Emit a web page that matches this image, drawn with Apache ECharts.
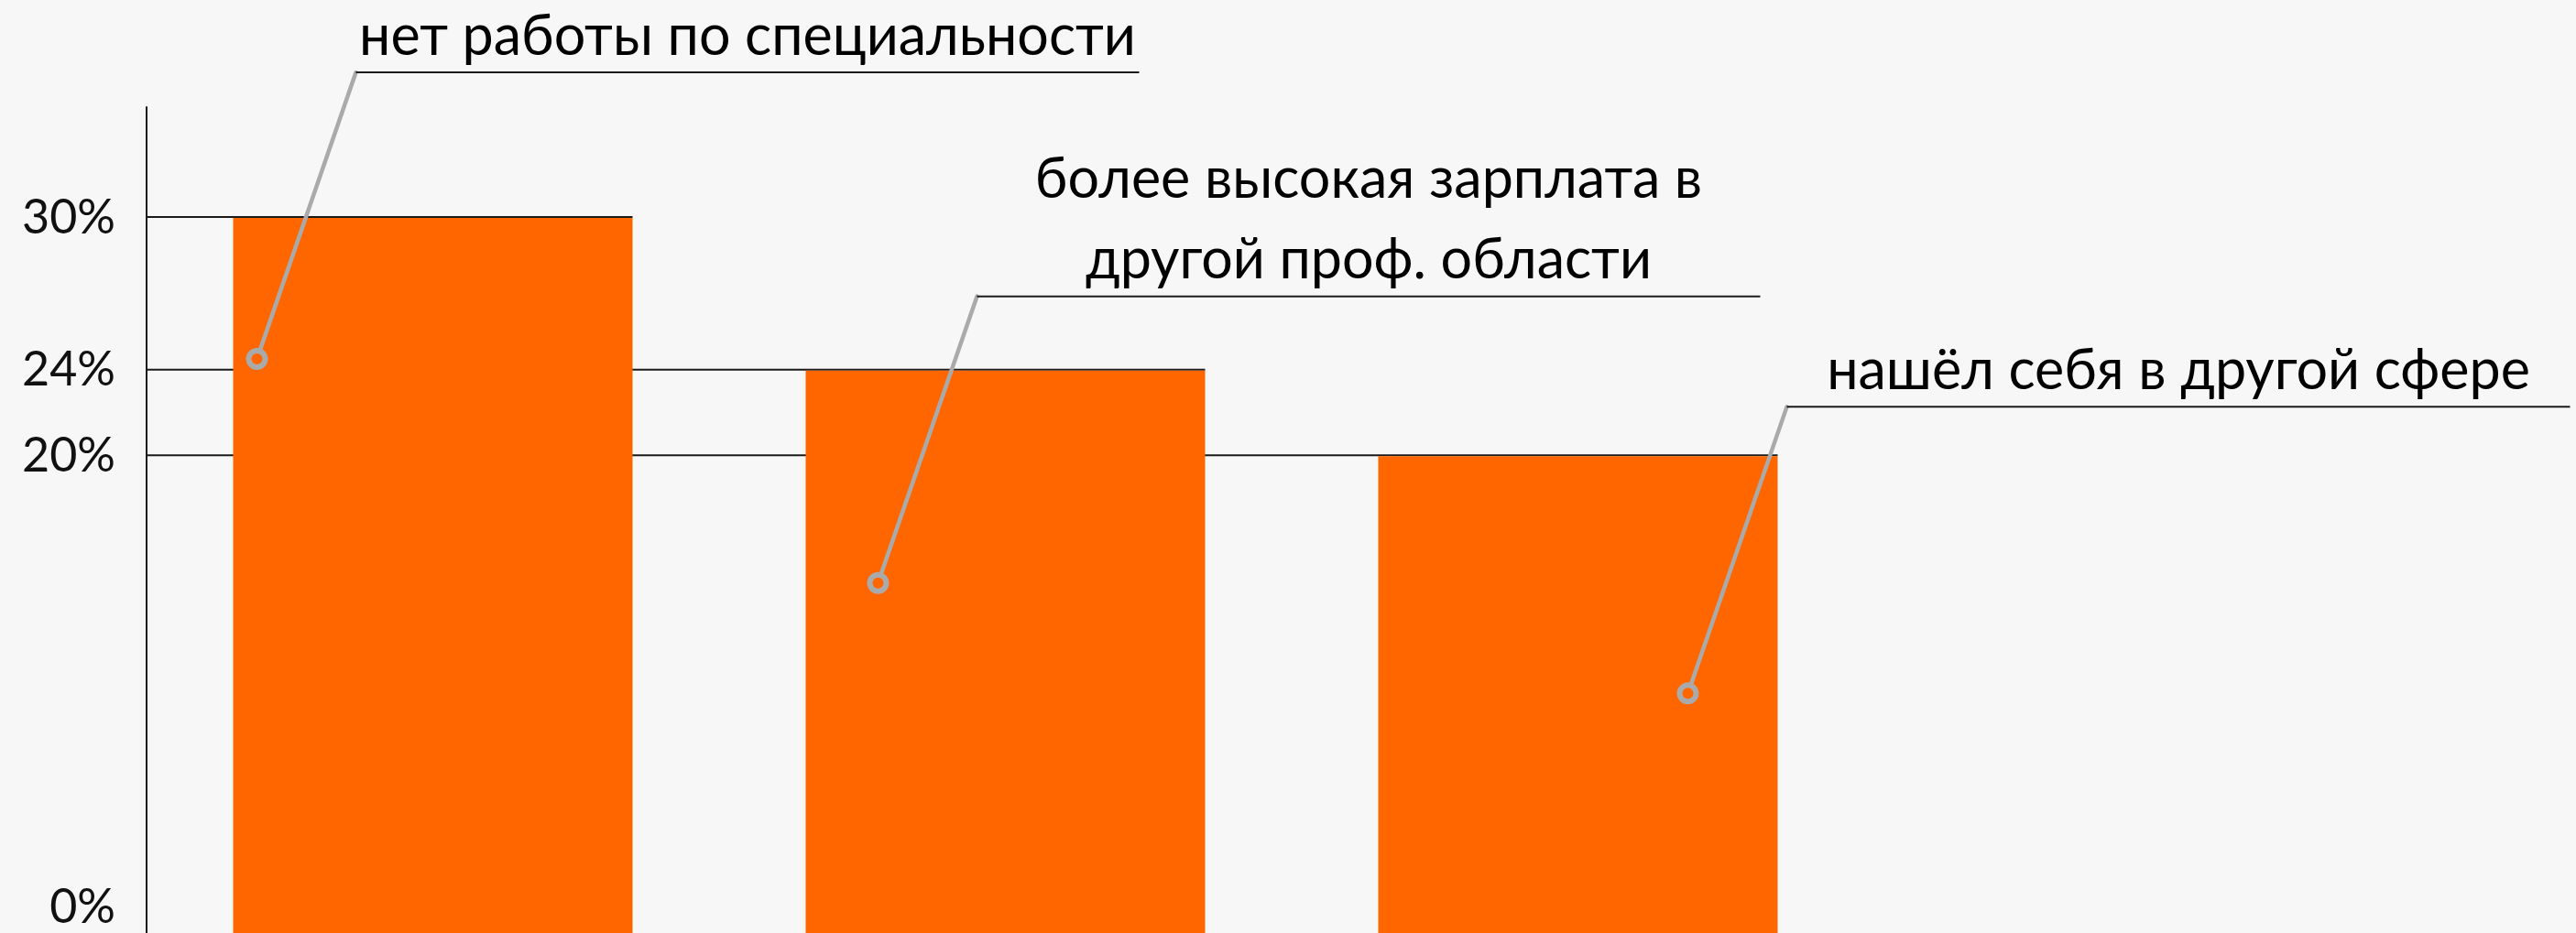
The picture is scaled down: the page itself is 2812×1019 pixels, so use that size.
<!DOCTYPE html>
<html>
<head>
<meta charset="utf-8">
<script src="https://cdn.jsdelivr.net/npm/echarts@6/dist/echarts.min.js"></script>
<style>
  html, body { margin: 0; padding: 0; background: #f7f7f7; }
  #chart { width: 2812px; height: 1019px; }
</style>
</head>
<body>
<div id="chart"></div>
<script>
// ---- data ----
const categories = [
  'нет работы по специальности',
  'более высокая зарплата в\nдругой проф. области',
  'нашёл себя в другой сфере'
];
const shares = [30, 23.6, 20];
const tickValues = [0, 20, 23.6, 30];
const tickLabels = ['0%', '20%', '24%', '30%'];

// ---- style / layout (not data) ----
const BAR_W = 436;
const calloutDx = [-192, -139, 120];   // circle offset from bar top-centre (px)
const calloutDy = [154, 232, 259];
const LEADER_DX = 108, LEADER_DY = -313;
const UNDERLINE_W = 855;
const TEXT_DY = 5;

const chart = echarts.init(document.getElementById('chart'), null, { renderer: 'canvas' });

const points = shares.map((v, i) => [i, v]);

chart.setOption({
  backgroundColor: '#f7f7f7',
  animation: false,
  grid: { left: 160, right: 777, top: 117, bottom: 0, containLabel: false, outerBoundsMode: 'none' },
  xAxis: {
    type: 'category',
    data: categories,
    axisLine: { show: false },
    axisTick: { show: false },
    axisLabel: { show: false },
    splitLine: { show: false }
  },
  yAxis: {
    type: 'value',
    min: 0,
    max: 34.65,
    axisLine: { show: true, lineStyle: { color: '#1a1a1a', width: 2 } },
    axisTick: { show: false },
    splitLine: { show: false },
    axisLabel: {
      customValues: tickValues,
      margin: 34,
      fontFamily: 'Lato, "Noto Sans", sans-serif',
      fontSize: 52,
      color: '#111',
      formatter: function (v) {
        let idx = 0, best = Infinity;
        tickValues.forEach((t, k) => { const d = Math.abs(t - v); if (d < best) { best = d; idx = k; } });
        return idx === 0 ? '{z|' + tickLabels[idx] + '}' : tickLabels[idx];
      },
      rich: {
        z: { fontFamily: 'Lato, "Noto Sans", sans-serif', fontSize: 52, color: '#111', padding: [0, 0, 56, 0] }
      }
    }
  },
  series: [
    {
      type: 'custom',
      name: 'gridlines',
      z: 1,
      clip: false,
      data: points,
      encode: { x: 0, y: 1 },
      renderItem: function (params, api) {
        const p = api.coord([api.value(0), api.value(1)]);
        const cs = params.coordSys;
        return {
          type: 'line',
          shape: { x1: cs.x, y1: p[1] - 1, x2: p[0] + BAR_W / 2, y2: p[1] - 1 },
          style: { stroke: '#1a1a1a', lineWidth: 2 }
        };
      }
    },
    {
      type: 'bar',
      z: 2,
      data: shares,
      barWidth: BAR_W,
      itemStyle: { color: '#ff6600' }
    },
    {
      type: 'custom',
      name: 'callouts',
      z: 10,
      clip: false,
      data: points,
      encode: { x: 0, y: 1 },
      renderItem: function (params, api) {
        const i = params.dataIndex;
        const p = api.coord([api.value(0), api.value(1)]);
        const c = [p[0] + calloutDx[i], p[1] + calloutDy[i]];
        const u = [c[0] + LEADER_DX, c[1] + LEADER_DY];
        const len = Math.hypot(LEADER_DX, LEADER_DY);
        const r = 9;
        const s = [c[0] + LEADER_DX / len * (r + 3), c[1] + LEADER_DY / len * (r + 3)];
        return {
          type: 'group',
          children: [
            { type: 'line', shape: { x1: s[0], y1: s[1], x2: u[0], y2: u[1] },
              style: { stroke: '#aaaaaa', lineWidth: 4.5, lineCap: 'round' } },
            { type: 'circle', shape: { cx: c[0], cy: c[1], r: r },
              style: { fill: null, stroke: '#aaaaaa', lineWidth: 6 } },
            { type: 'line', shape: { x1: u[0], y1: u[1], x2: u[0] + UNDERLINE_W, y2: u[1] },
              style: { stroke: '#1a1a1a', lineWidth: 2 } },
            { type: 'text',
              style: {
                text: categories[i],
                x: u[0] + UNDERLINE_W / 2,
                y: u[1] + TEXT_DY,
                align: 'center',
                verticalAlign: 'bottom',
                fontFamily: 'Lato, "Noto Sans", sans-serif',
                fontSize: 61,
                lineHeight: 88,
                fill: '#000'
              } }
          ]
        };
      }
    }
  ]
});
</script>
</body>
</html>
